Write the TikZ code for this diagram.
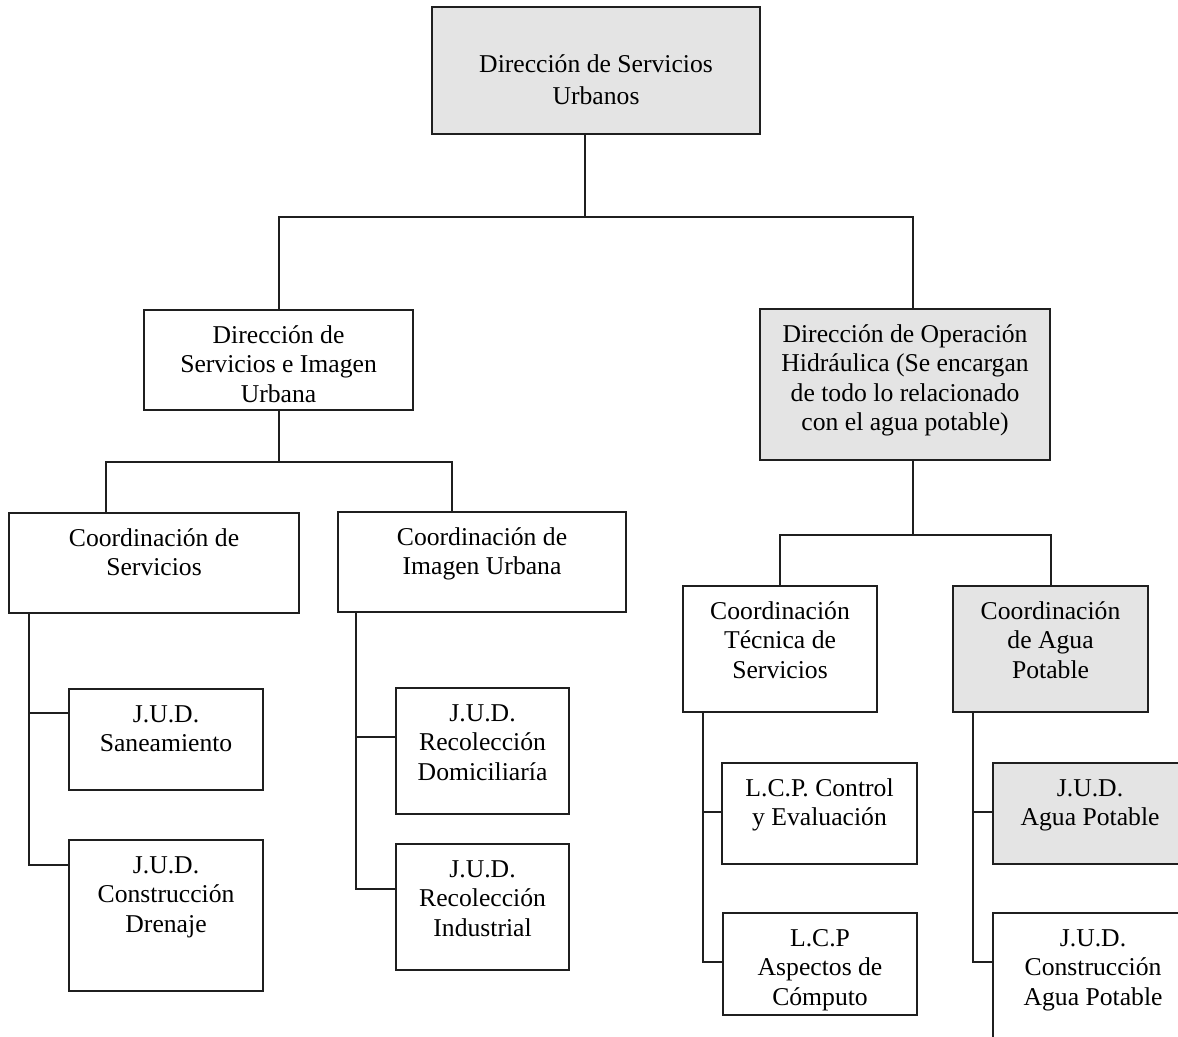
\documentclass[tikz,border=0pt]{standalone}
\usepackage{fontspec}
\setmainfont{Liberation Serif}
\usepackage{xcolor}
\usepackage{tikz}
\usetikzlibrary{calc}
\definecolor{boxgray}{HTML}{E4E4E4}
\colorlet{rule}{black!88}
\newlength{\orgu}
\setlength{\orgu}{0.02cm}
% box text: [top pad]{width}{height}{lines}, sizes in picture units
\newcommand{\orgtext}[4][7.2pt]{\parbox[c][#3\orgu][t]{#2\orgu}{\centering\vspace*{#1}\strut#4\par}}

\begin{document}
\begin{tikzpicture}[x=0.02cm, y=-0.02cm,
    unit/.style={draw=rule, line width=1.2pt, fill=white, inner sep=0pt, anchor=north west,
      font=\fontsize{14.6}{16.8}\selectfont},
    unitgray/.style={unit, fill=boxgray},
    link/.style={draw=rule, line width=1.2pt}]
    \clip (0,0) rectangle (1178,1036);
    \fill[white] (0,0) rectangle (1178,1036);

    % top level
    \node[unitgray, font=\fontsize{14.6}{18.6}\selectfont] (dsu) at (431,6) {\orgtext[24pt]{328}{127}{Dirección de Servicios\\Urbanos}};

    % directions
    \node[unit] (dsiu) at (143,309) {\orgtext{269}{100}{Dirección de\\Servicios e Imagen\\Urbana}};
    \node[unitgray] (doh) at (759,308) {\orgtext{290}{151}{Dirección de Operación\\Hidráulica (Se encargan\\de todo lo relacionado\\con el agua potable)}};

    % coordinations
    \node[unit] (cserv) at (8,512) {\orgtext{290}{100}{Coordinación de\\Servicios}};
    \node[unit] (cimagen) at (337,511) {\orgtext{288}{100}{Coordinación de\\Imagen Urbana}};
    \node[unit] (ctec) at (682,585) {\orgtext{194}{126}{Coordinación\\Técnica de\\Servicios}};
    \node[unitgray] (cagua) at (952,585) {\orgtext{195}{126}{Coordinación\\de Agua\\Potable}};

    % units
    \node[unit] (jsan) at (68,688) {\orgtext{194}{101}{J.U.D.\\Saneamiento}};
    \node[unit] (jdren) at (68,839) {\orgtext{194}{151}{J.U.D.\\Construcción\\Drenaje}};
    \node[unit] (jdom) at (395,687) {\orgtext{173}{126}{J.U.D.\\Recolección\\Domiciliaría}};
    \node[unit] (jind) at (395,843) {\orgtext{173}{126}{J.U.D.\\Recolección\\Industrial}};
    \node[unit] (lcontrol) at (721,762) {\orgtext{195}{101}{L.C.P. Control\\y Evaluación}};
    \node[unit] (lcomputo) at (722,912) {\orgtext{194}{102}{L.C.P\\Aspectos de\\Cómputo}};
    \node[unitgray] (jagua) at (992,762) {\orgtext{194}{101}{J.U.D.\\Agua Potable}};
    \node[unit] (jcons) at (992,912) {\orgtext{200}{140}{J.U.D.\\Construcción\\Agua Potable}};

    % forks
    \coordinate (j0) at (585,217);
    \coordinate (j1) at (277.5,462);
    \coordinate (j2) at (913,535);
    \draw[link] (dsu.south -| j0) -- (j0);
    \draw[link] (dsiu.north) |- (j0) -| (doh.north -| j2);
    \draw[link] (dsiu.south) -- (dsiu.south |- j1);
    \draw[link] ($(cserv.north west)+(98,0)$) |- (dsiu.south |- j1) -| ($(cimagen.north west)+(115,0)$);
    \draw[link] (doh.south -| j2) -- (j2);
    \draw[link] (ctec.north) |- (j2) -| (cagua.north);

    % spines
    \draw[link] ($(jsan.north west)+(0,25)$) -| ($(cserv.south west)+(21,0)$)
      ($(jdren.north west)+(0,26)$) -| ($(cserv.south west)+(21,0)$);
    \draw[link] ($(jdom.north west)+(0,50)$) -| ($(cimagen.south west)+(19,0)$)
      ($(jind.north west)+(0,46)$) -| ($(cimagen.south west)+(19,0)$);
    \draw[link] ($(lcontrol.north west)+(0,50)$) -| ($(ctec.south west)+(21,0)$)
      ($(lcomputo.north west)+(0,50)$) -| ($(ctec.south west)+(21,0)$);
    \draw[link] ($(jagua.north west)+(0,50)$) -| ($(cagua.south west)+(21,0)$)
      ($(jcons.north west)+(0,50)$) -| ($(cagua.south west)+(21,0)$);
\end{tikzpicture}
\end{document}
